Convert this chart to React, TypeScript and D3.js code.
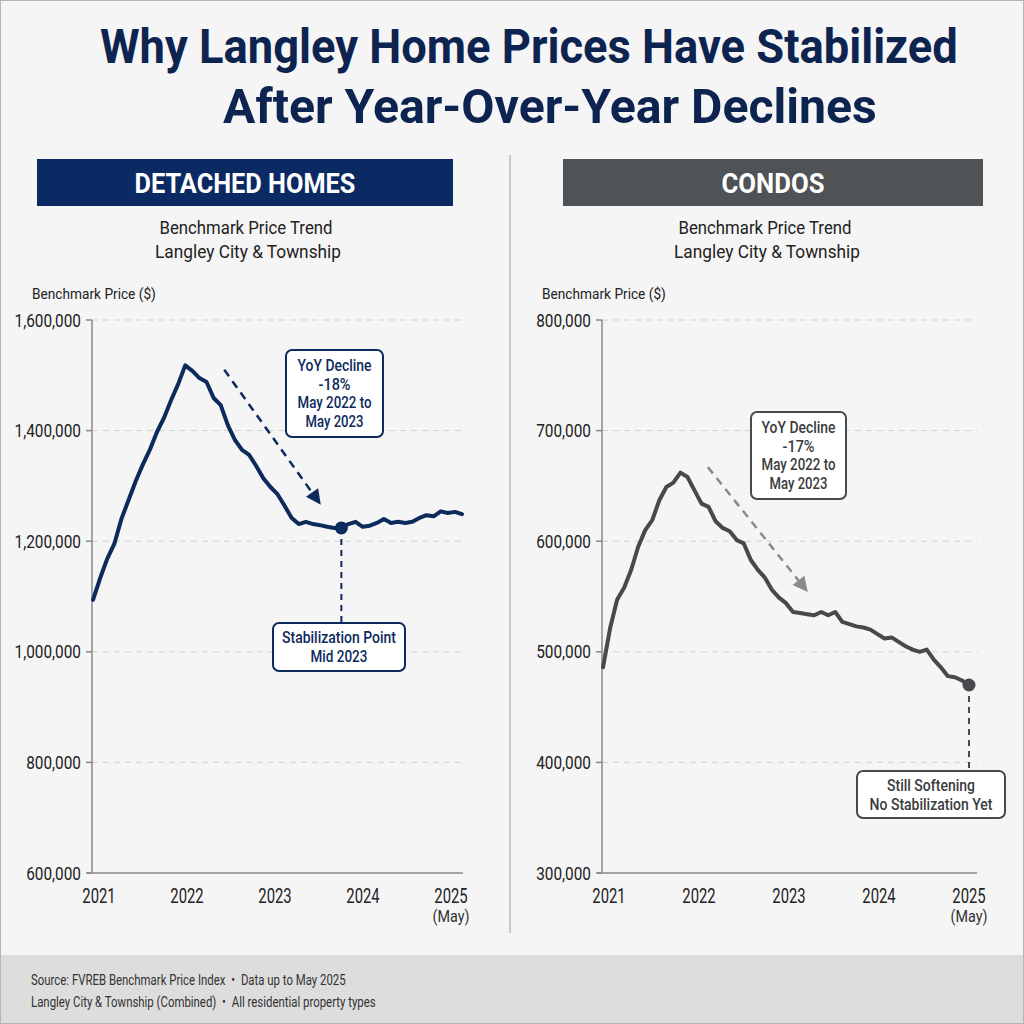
import React, { useLayoutEffect, useRef, useState } from "react";
import * as d3 from "d3";

// monthly benchmark prices, Jan 2021 .. May 2025
const detachedPrices = [
  1094000, 1133000, 1168000, 1195000, 1240000, 1274000, 1308000, 1338000, 1365000, 1397000,
  1423000, 1455000, 1484000, 1518000, 1508000, 1495000, 1488000, 1459000, 1446000, 1410000,
  1383000, 1365000, 1356000, 1336000, 1314000, 1298000, 1285000, 1264000, 1242000, 1231000,
  1235000, 1231000, 1229000, 1226000, 1224000, 1224000, 1231000, 1235000, 1226000, 1228000,
  1233000, 1240000, 1233000, 1235000, 1233000, 1235000, 1242000, 1247000, 1245000, 1254000,
  1251000, 1253000, 1249000,
];
const condoPrices = [
  486000, 521000, 547000, 558000, 574000, 595000, 610000, 619000, 637000, 649000,
  653000, 662000, 658000, 646000, 634000, 631000, 618000, 612000, 609000, 601000,
  598000, 583000, 574000, 567000, 556000, 549000, 544000, 536000, 535000, 534000,
  533000, 536000, 533000, 536000, 527000, 525000, 523000, 522000, 520000, 516000,
  512000, 513000, 509000, 505000, 502000, 500000, 502000, 493000, 486000, 478000,
  477000, 474000, 470000,
];
const yearLabels = ["2021", "2022", "2023", "2024", "2025"];
const detachedTicks = [600000, 800000, 1000000, 1200000, 1400000, 1600000];
const condoTicks = [300000, 400000, 500000, 600000, 700000, 800000];
const detachedYoY = ["YoY Decline", "-18%", "May 2022 to", "May 2023"];
const condoYoY = ["YoY Decline", "-17%", "May 2022 to", "May 2023"];
const yoyWidths = [74, 32, 74, 58];
const detachedNote = ["Stabilization Point", "Mid 2023"];
const condoNote = ["Still Softening", "No Stabilization Yet"];
// [month index, price] for the trend arrows
const detachedArrow = [[18.5, 1510000], [32.1, 1266000]];
const condoArrow = [[14.9, 667000], [29.1, 554000]];

const FONT = "Roboto, 'Liberation Sans', sans-serif";
const TOP = 320;
const BOTTOM = 873;

// text squeezed horizontally, either to a width w or by a factor sx
function FitText({ x, y, w, sx, anchor = "start", children, ...rest }) {
  const ref = useRef(null);
  const [s, setS] = useState(sx || 1);
  useLayoutEffect(() => {
    if (!w || !ref.current) return;
    const n = ref.current.getComputedTextLength();
    if (n > 0) setS(w / n);
  }, [w, children]);
  return (
    <text ref={ref} transform={`translate(${x},${y}) scale(${s},1)`} textAnchor={anchor} {...rest}>
      {children}
    </text>
  );
}

function Panel(p) {
  const x = d3.scaleLinear().domain([0, p.values.length - 1]).range([p.axisX + 1, p.lineEnd]);
  const y = d3.scaleLinear().domain([p.ticks[0], p.ticks[p.ticks.length - 1]]).range([BOTTOM, TOP]);
  const years = d3.scalePoint().domain(yearLabels).range(p.yearRange);
  const line = d3.line().x((d, i) => x(i)).y(d => y(d));
  const mx = x(p.mark);
  const my = y(p.values[p.mark]);
  const [a0, a1] = p.arrow;
  const ax0 = x(a0[0]), ay0 = y(a0[1]), ax1 = x(a1[0]), ay1 = y(a1[1]);
  const rad = Math.atan2(ay1 - ay0, ax1 - ax0);

  return (
    <g fontFamily={FONT}>
      <rect x={p.headerX} y={159} width={p.headerW} height={47} fill={p.headerFill} />
      <FitText x={p.headerX + p.headerW / 2} y={193} w={p.titleW} anchor="middle" fill="#fff" fontSize={28} fontWeight="bold">
        {p.title}
      </FitText>
      <FitText x={p.center} y={234} w={173} anchor="middle" fontSize={19} fill="#222">Benchmark Price Trend</FitText>
      <FitText x={p.center + 2} y={258} w={186} anchor="middle" fontSize={19} fill="#222">Langley City &amp; Township</FitText>
      <FitText x={p.axisX - 60} y={299} w={124} fontSize={15} fill="#222">Benchmark Price ($)</FitText>

      {p.ticks.map(t => (
        <g key={t}>
          {t !== p.ticks[0] && (
            <line x1={p.axisX} x2={p.gridEnd} y1={y(t)} y2={y(t)} stroke="#d0d0d0" strokeDasharray="6 5" />
          )}
          <line x1={p.axisX - 6} x2={p.axisX} y1={y(t)} y2={y(t)} stroke="#888" strokeWidth={1.5} />
          <FitText x={p.axisX - 11} y={y(t) + 6.5} sx={0.83} anchor="end" fontSize={18.5} fill="#222">
            {d3.format(",")(t)}
          </FitText>
        </g>
      ))}
      <line x1={p.axisX} x2={p.axisX} y1={TOP} y2={BOTTOM} stroke="#888" strokeWidth={1.5} />
      <line x1={p.axisX - 5} x2={p.gridEnd} y1={BOTTOM} y2={BOTTOM} stroke="#888" strokeWidth={1.5} />
      {yearLabels.map(yr => (
        <FitText key={yr} x={years(yr)} y={903} sx={0.76} anchor="middle" fontSize={19.5} fill="#222">{yr}</FitText>
      ))}
      <FitText x={years("2025")} y={922} w={37} anchor="middle" fontSize={16} fill="#333">(May)</FitText>

      <path d={line(p.values)} fill="none" stroke={p.lineColor} strokeWidth={4} strokeLinejoin="round" strokeLinecap="round" />

      {/* trend arrow */}
      <line x1={ax0} y1={ay0} x2={ax1 - 12 * Math.cos(rad)} y2={ay1 - 12 * Math.sin(rad)}
        stroke={p.arrowColor} strokeWidth={2.5} strokeDasharray="8 6" />
      <path d="M0,0 L-15,-7.5 L-15,7.5 Z" fill={p.arrowColor}
        transform={`translate(${ax1},${ay1}) rotate(${(rad * 180) / Math.PI})`} />

      <rect x={p.yoyBox[0]} y={p.yoyBox[1]} width={p.yoyBox[2]} height={p.yoyBox[3]} rx={6} fill="#fff" stroke={p.lineColor} strokeWidth={2} />
      {p.yoy.map((s, i) => (
        <FitText key={i} x={p.yoyBox[0] + p.yoyBox[2] / 2} y={p.yoyBox[1] + 21 + i * 18.7} w={yoyWidths[i]} anchor="middle"
          fontSize={17} fontWeight={500} fill={p.textColor}>{s}</FitText>
      ))}

      <line x1={mx} x2={mx} y1={my} y2={p.noteBox[1]} stroke={p.lineColor} strokeWidth={2} strokeDasharray="6 5" />
      <circle cx={mx} cy={my} r={6.5} fill={p.lineColor} />
      <rect x={p.noteBox[0]} y={p.noteBox[1]} width={p.noteBox[2]} height={p.noteBox[3]} rx={6} fill="#fff" stroke={p.lineColor} strokeWidth={2} />
      {p.note.map((s, i) => (
        <FitText key={i} x={p.noteBox[0] + p.noteBox[2] / 2} y={p.noteBox[1] + 20 + i * 18.5} w={p.noteW[i]} anchor="middle"
          fontSize={17} fontWeight={500} fill={p.textColor}>{s}</FitText>
      ))}
    </g>
  );
}

export default function App() {
  return (
    <div style={{ position: "absolute", left: 0, top: 0 }}>
      <svg width={1024} height={1024} style={{ display: "block" }}>
        <rect x={0} y={0} width={1024} height={1024} fill="#f5f5f5" />
        <g fontFamily={FONT} fontWeight="bold" fill="#0d2350">
          <FitText x={100} y={63} w={858} fontSize={49}>Why Langley Home Prices Have Stabilized</FitText>
          <FitText x={223} y={123} w={654} fontSize={49}>After Year-Over-Year Declines</FitText>
        </g>

        <line x1={510} x2={510} y1={155} y2={933} stroke="#c8c8c8" strokeWidth={2} />

        <Panel
          title="DETACHED HOMES" titleW={221} headerX={37} headerW={416} headerFill="#0b2a63" center={246}
          axisX={92} lineEnd={462} gridEnd={463} yearRange={[99, 451]}
          values={detachedPrices} ticks={detachedTicks} mark={35}
          lineColor="#0d2a5c" arrowColor="#0d2a5c" textColor="#0d2a5c"
          arrow={detachedArrow} yoy={detachedYoY} yoyBox={[286, 350, 97, 87]}
          note={detachedNote} noteW={[114, 57]} noteBox={[273, 623, 132, 48]}
        />
        <Panel
          title="CONDOS" titleW={103} headerX={563} headerW={420} headerFill="#505355" center={765}
          axisX={602} lineEnd={969} gridEnd={977} yearRange={[609, 969]}
          values={condoPrices} ticks={condoTicks} mark={52}
          lineColor="#48494c" arrowColor="#8a8a8a" textColor="#3a3b3d"
          arrow={condoArrow} yoy={condoYoY} yoyBox={[751, 412, 95, 87]}
          note={condoNote} noteW={[88, 123]} noteBox={[857, 771, 148, 47]}
        />

        <rect x={0} y={955} width={1024} height={69} fill="#dddddd" />
        <g fontFamily={FONT} fontSize={15} fill="#333">
          <FitText x={31} y={985} w={315}>{"Source: FVREB Benchmark Price Index\u2002\u2022\u2002Data up to May 2025"}</FitText>
          <FitText x={31} y={1007} w={345}>{"Langley City & Township (Combined)\u2002\u2022\u2002All residential property types"}</FitText>
        </g>
        <rect x={0.5} y={0.5} width={1023} height={1023} fill="none" stroke="#b5b5b5" />
      </svg>
    </div>
  );
}
